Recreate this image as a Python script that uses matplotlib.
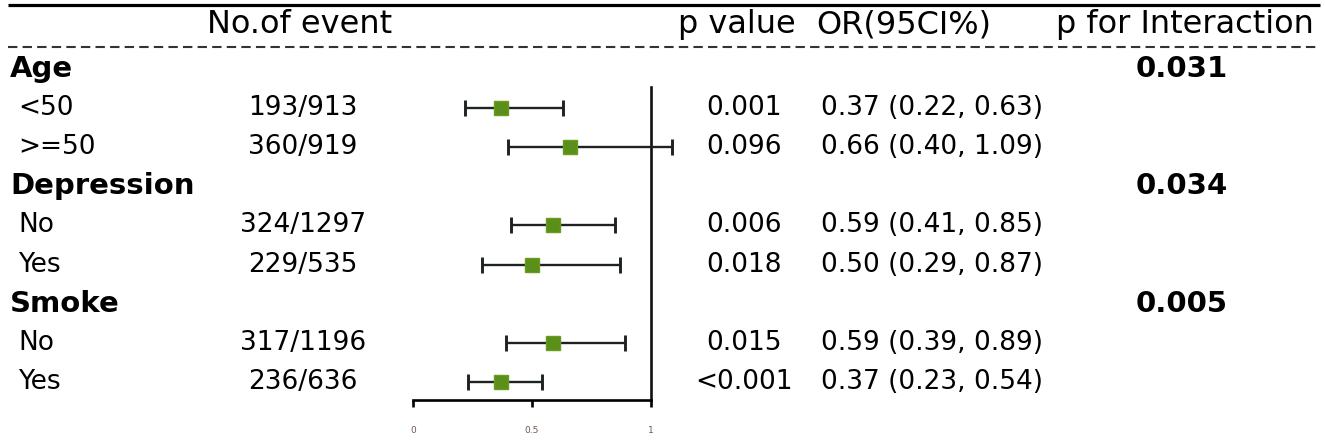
import matplotlib
matplotlib.use("Agg")
import matplotlib.pyplot as plt
import matplotlib.transforms as mtransforms

# ---- data ----
groups = ["Age", "Depression", "Smoke"]
p_interaction = ["0.031", "0.034", "0.005"]
subgroups = [["<50", ">=50"], ["No", "Yes"], ["No", "Yes"]]
events = [["193/913", "360/919"], ["324/1297", "229/535"], ["317/1196", "236/636"]]
p_values = [["0.001", "0.096"], ["0.006", "0.018"], ["0.015", "<0.001"]]
odds = [[0.37, 0.66], [0.59, 0.50], [0.59, 0.37]]
lower = [[0.22, 0.40], [0.41, 0.29], [0.39, 0.23]]
upper = [[0.63, 1.09], [0.85, 0.87], [0.89, 0.54]]
headers = ["No.of event", "p value", "OR(95CI%)", "p for Interaction"]
xticks = [0, 0.5, 1]
xticklabels = ["0", "0.5", "1"]

plt.rcParams['font.family'] = ['DejaVu Sans']

W, H = 1325, 446
fig = plt.figure(figsize=(W / 100, H / 100), dpi=100)
fig.patch.set_facecolor("white")

# forest axes: x 0->1 mapped to px 413->651, bottom at px 400
row0_px, step_px = 69.0, 39.1
ax_bottom_px = 400.0
ax = fig.add_axes([413 / W, (H - ax_bottom_px) / H, 238 / W, ax_bottom_px / H])
ax.set_xlim(0, 1)
y_bottom = (ax_bottom_px - row0_px) / step_px
y_top = (0 - row0_px) / step_px
ax.set_ylim(y_bottom, y_top)
ax.set_facecolor("none")
for s in ["top", "left", "right"]:
    ax.spines[s].set_visible(False)
ax.spines["bottom"].set_bounds(0, 1)
ax.spines["bottom"].set_linewidth(1.9)
ax.set_yticks([])
ax.set_xticks(xticks)
ax.set_xticklabels(xticklabels)
ax.tick_params(axis="x", direction="out", length=5, width=1.9, pad=14,
               labelsize=6.5, labelcolor="#6e5a50", color="black")

tr = mtransforms.blended_transform_factory(fig.transFigure, ax.transData)

def fx(px):
    return px / W

def row_of(px):
    return (px - row0_px) / step_px

# header lines and text
ax.plot([fx(8), fx(1320)], [row_of(5), row_of(5)], transform=tr, color="black",
        lw=2.3, clip_on=False, solid_capstyle="butt")
ax.plot([fx(8), fx(1320)], [row_of(47), row_of(47)], transform=tr, color="#333333",
        lw=1.5, ls=(0, (4.5, 2.5)), clip_on=False)
hy = row_of(25)
hs = 23
ax.text(fx(300), hy, headers[0], transform=tr, ha="center", va="center", fontsize=hs)
ax.text(fx(737), hy, headers[1], transform=tr, ha="center", va="center", fontsize=hs)
ax.text(fx(816), hy, headers[2], transform=tr, ha="left", va="center", fontsize=hs)
ax.text(fx(1314), hy, headers[3], transform=tr, ha="right", va="center", fontsize=hs)

# rows
row = 0
ys, xs, los, his = [], [], [], []
for g, gname in enumerate(groups):
    ax.text(fx(10), row, gname, transform=tr, ha="left", va="center",
            fontsize=21, fontweight="bold")
    ax.text(fx(1182), row, p_interaction[g], transform=tr, ha="center", va="center",
            fontsize=21, fontweight="bold")
    row += 1
    for k in range(len(subgroups[g])):
        ax.text(fx(18), row, subgroups[g][k], transform=tr, ha="left", va="center", fontsize=19)
        ax.text(fx(303), row, events[g][k], transform=tr, ha="center", va="center", fontsize=19)
        ax.text(fx(744), row, p_values[g][k], transform=tr, ha="center", va="center", fontsize=19)
        ax.text(fx(821), row,
                f"{odds[g][k]:.2f} ({lower[g][k]:.2f}, {upper[g][k]:.2f})",
                transform=tr, ha="left", va="center", fontsize=19)
        ys.append(row)
        xs.append(odds[g][k])
        los.append(odds[g][k] - lower[g][k])
        his.append(upper[g][k] - odds[g][k])
        row += 1

# reference line at 1
ax.plot([1, 1], [row_of(87), y_bottom], color="#111111", lw=1.9, clip_on=False)

# estimates with CI
ax.errorbar(xs, ys, xerr=[los, his], fmt="s", color="#1e2222", ecolor="#1e2222",
            elinewidth=1.7, capsize=5.8, capthick=2.1, markersize=9.5,
            markerfacecolor="#5b9018", markeredgecolor="#6a9a22", clip_on=False, zorder=3)

fig.savefig("out.png", dpi=100, facecolor="white")
